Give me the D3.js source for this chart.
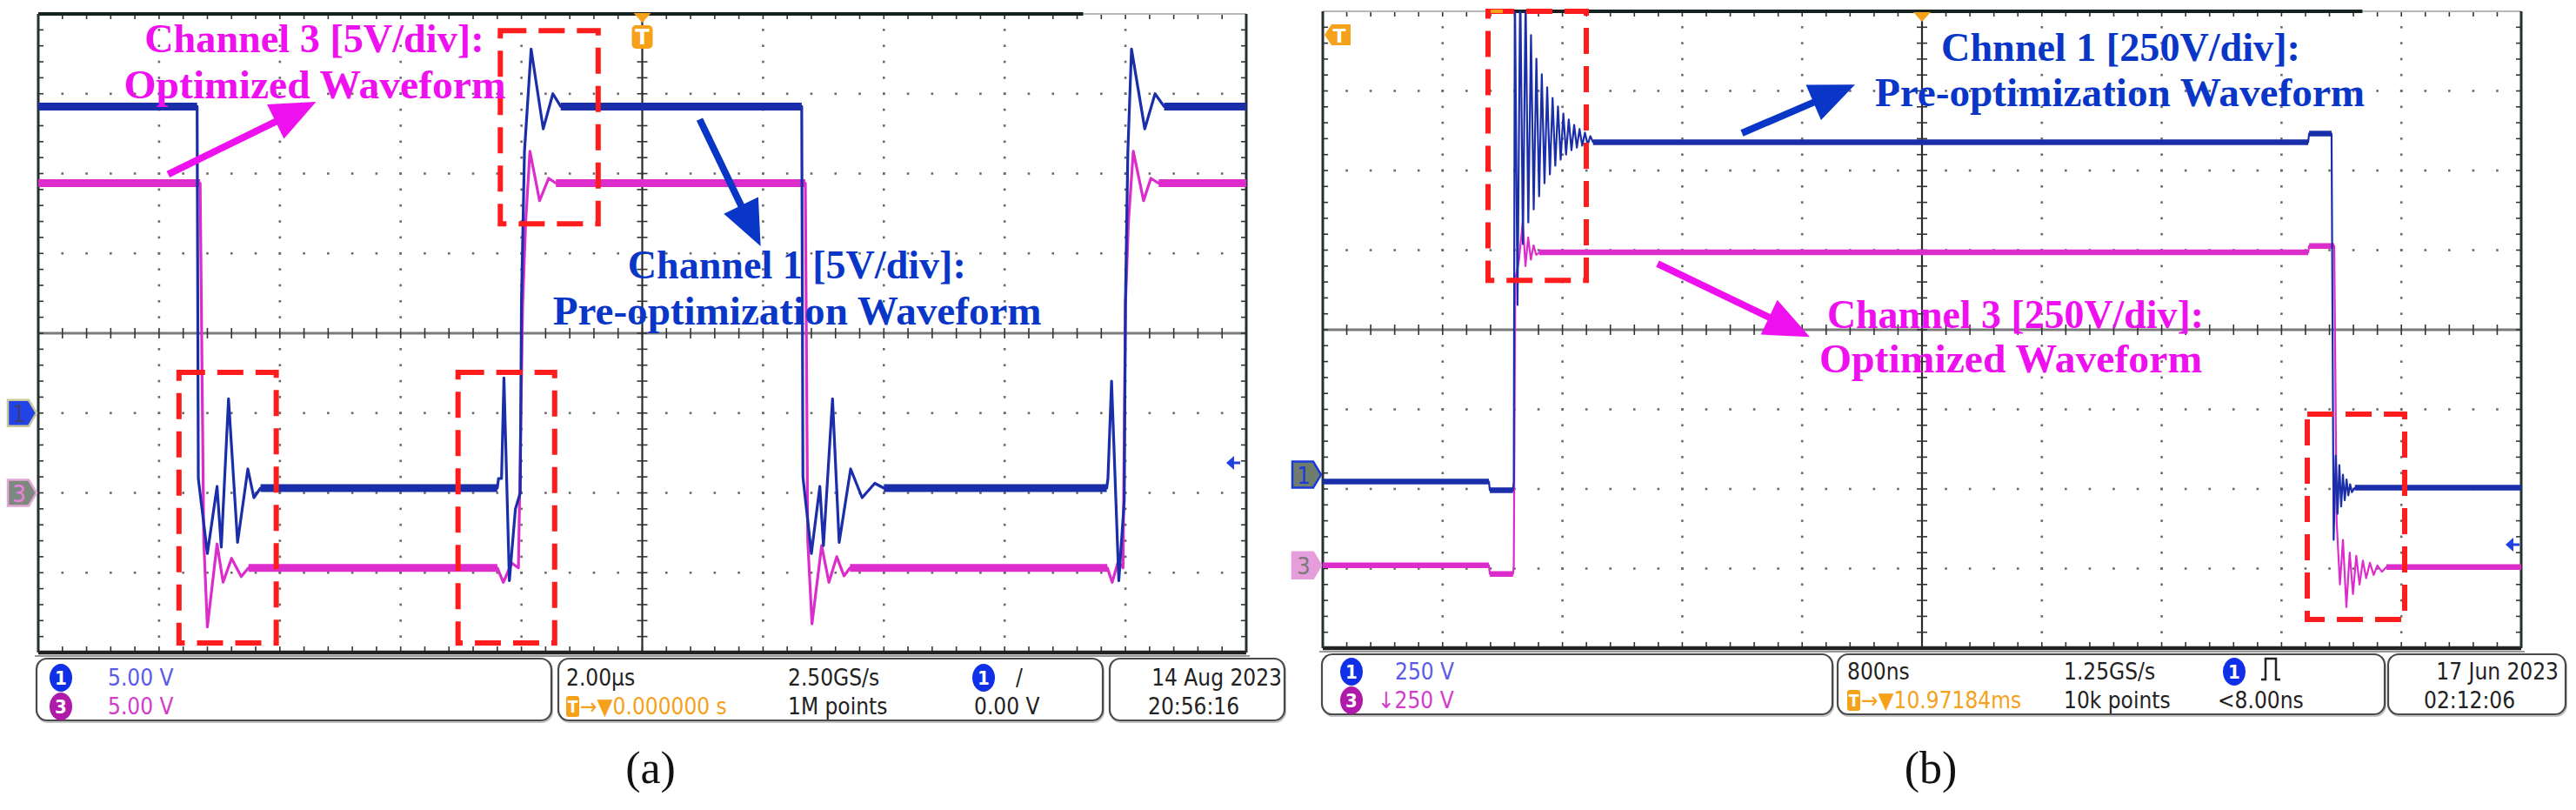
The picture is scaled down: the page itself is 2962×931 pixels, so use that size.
<!DOCTYPE html>
<html>
<head>
<meta charset="utf-8">
<script src="https://cdn.jsdelivr.net/npm/d3@7"></script>
<style>
body { margin: 0; background: #fff; }
svg { display: block; }
</style>
</head>
<body>
<div id="c"></div>
<script>
// ---- waveform (a): time in us, volts ----
var aCh1 = [[-10,19.2],[-7.37,19.2],[-7.35,-4.1],[-7.2,-8.8],[-7.04,-4.6],[-6.97,-8.4],[-6.85,0.9],[-6.7,-8.1],[-6.53,-3.5],[-6.43,-5.3],[-6.32,-4.7],
  [-2.4,-4.7],[-2.38,-4.1],[-2.33,-4.1],[-2.29,2.2],[-2.2,-10.5],[-2.1,-6.0],[-2.02,-5.0],[-2.0,7.0],[-1.95,16.4],[-1.84,22.8],[-1.64,17.8],[-1.48,20.0],[-1.35,19.2],
  [2.64,19.2],[2.66,-4.0],[2.8,-8.8],[2.94,-4.6],[3.0,-8.3],[3.15,0.9],[3.26,-8.1],[3.45,-3.5],[3.64,-5.3],[3.85,-4.4],[4.0,-4.7],
  [7.69,-4.7],[7.71,-4.1],[7.77,2.0],[7.89,-10.5],[7.98,-5.5],[8.0,7.0],[8.04,16.4],[8.1,22.8],[8.32,17.8],[8.49,20.0],[8.64,19.2],[10,19.2]];
var aCh3 = [[-10,19.4],[-7.32,19.4],[-7.26,-3.0],[-7.2,-8.4],[-7.04,-3.2],[-6.94,-5.6],[-6.8,-4.1],[-6.64,-5.25],[-6.52,-4.7],
  [-2.4,-4.7],[-2.3,-5.6],[-2.16,-4.4],[-2.05,-4.7],[-1.98,11.8],[-1.93,17.0],[-1.86,21.4],[-1.7,18.3],[-1.55,19.7],[-1.43,19.4],
  [2.7,19.4],[2.74,-3.0],[2.81,-8.2],[2.97,-3.3],[3.09,-5.6],[3.22,-4.0],[3.34,-5.2],[3.44,-4.7],
  [7.7,-4.7],[7.78,-5.6],[7.88,-4.3],[7.96,-4.7],[8.0,11.8],[8.05,17.0],[8.13,21.4],[8.3,18.3],[8.42,19.7],[8.55,19.4],[10,19.4]];
var aCh1Levels = [[-10,-7.37,19.2],[-6.32,-2.4,-4.7],[-1.35,2.64,19.2],[4.0,7.69,-4.7],[8.64,10,19.2]];
var aCh3Levels = [[-10,-7.32,19.4],[-6.52,-2.4,-4.7],[-1.43,2.7,19.4],[3.44,7.7,-4.7],[8.55,10,19.4]];

// ---- waveform (b): time in ns, volts ----
var bCh1 = [[-4000,-22],[-2891,-22],[-2885,-49],[-2730,-49],[-2725,-22],[-2718,1550],[-2700,533],[-2682,1550],[-2664,724],[-2646,1500],
  [-2628,792],[-2610,1380],[-2592,833],[-2574,1306],[-2556,874],[-2538,1257],[-2520,915],[-2502,1216],[-2484,943],[-2466,1183],
  [-2448,970],[-2430,1156],[-2412,989],[-2394,1134],[-2376,1005],[-2358,1115],[-2340,1019],[-2322,1098],[-2304,1027],[-2286,1085],
  [-2268,1033],[-2250,1074],[-2232,1036],[-2214,1063],[-2196,1044],[2578,1044],[2584,1071],[2734,1071],[2748,-205],[2762,60],
  [2774,-123],[2786,30],[2798,-100],[2810,0],[2822,-80],[2834,-15],[2846,-65],[2858,-30],[2870,-55],[2890,-41],[4000,-41]];
var bCh3 = [[-4000,0],[-2891,0],[-2885,-27],[-2730,-27],[-2725,0],[-2715,900],[-2690,960],[-2665,1079],[-2647,940],[-2629,1030],
  [-2611,960],[-2593,1005],[-2575,975],[-2555,983],[2578,983],[2584,1003],[2752,1003],[2768,137],[2790,-60],[2810,80],[2833,-131],
  [2855,40],[2877,-90],[2899,30],[2921,-60],[2943,15],[2965,-40],[2990,8],[3015,-30],[3040,0],[3070,-20],[3100,-5],[4000,-5]];
var bCh1Levels = [[-4000,-2891,-22],[-2885,-2730,-49],[-2196,2578,1044],[2584,2734,1071],[2890,4000,-41]];
var bCh3Levels = [[-4000,-2891,0],[-2885,-2730,-27],[-2555,2578,983],[2584,2752,1003],[3100,4000,-5]];

// ---- highlight boxes [t0, t1, div top, div bottom] ----
var aBoxes = [[-2.35,-0.73,3.79,1.37],[-7.67,-6.06,-0.49,-3.88],[-3.05,-1.45,-0.49,-3.88]];
var bBoxes = [[-2897,-2241,4.0,0.62],[2572,3222,-1.06,-3.64]];

// ---- annotation labels [text, t0, t1, baseline div] ----
var aLabels3 = [['Channel 3 [5V/div]:',-8.24,-2.62,3.52],['Optimized Waveform',-8.58,-2.26,2.94]];
var aLabels1 = [['Channel 1 [5V/div]:',-0.24,5.36,0.69],['Pre-optimization Waveform',-1.48,6.61,0.11]];
var bLabels1 = [['Chnnel 1 [250V/div]:',128,2525,3.38],['Pre-optimization Waveform',-314,2955,2.81]];
var bLabels3 = [['Channel 3 [250V/div]:',-633,1881,0.02],['Optimized Waveform',-685,1870,-0.54]];
// arrows [t from, div from, t to, div to]
var aArrow3 = [-7.85,1.99,-5.40,2.90];
var aArrow1 = [0.95,2.68,1.96,1.09];
var bArrow1 = [-1202,2.47,-447,3.08];
var bArrow3 = [-1765,0.83,-749,-0.09];

var width = 2962, height = 931;
var MAG = '#ee10ee', BLU = '#0a36c8';
var TR1 = '#1a2eaa', TR3 = '#dc2ccc';

var svg = d3.select('#c').append('svg')
  .attr('width', width)
  .attr('height', height);
svg.append('rect').attr('width', width).attr('height', height).attr('fill', '#fff');

var panels = [
  {id: 'a', x0: 44, x1: 1433, y0: 16, y1: 750, tSpan: 10, vDiv: 5, pos1: -1, pos3: -2,
   ch1: aCh1, ch3: aCh3, lv1: aCh1Levels, lv3: aCh3Levels, band: 9, lw: 3.2,
   boxes: aBoxes, topDark: [-10, 7.3],
   labels: [[aLabels3, MAG], [aLabels1, BLU]], arrows: [[aArrow3, MAG], [aArrow1, BLU]]},
  {id: 'b', x0: 1521, x1: 2899, y0: 13, y1: 745, tSpan: 4000, vDiv: 250, pos1: -1.82, pos3: -2.96,
   ch1: bCh1, ch3: bCh3, lv1: bCh1Levels, lv3: bCh3Levels, band: 6.5, lw: 2.2,
   boxes: bBoxes, topDark: [-2880, 2940],
   labels: [[bLabels1, BLU], [bLabels3, MAG]], arrows: [[bArrow1, BLU], [bArrow3, MAG]]}
];

panels.forEach(function(p) {
  var g = svg.append('g');
  var x = d3.scaleLinear().domain([-p.tSpan, p.tSpan]).range([p.x0, p.x1]);
  var xd = d3.scaleLinear().domain([-5, 5]).range([p.x0, p.x1]);
  var yd = d3.scaleLinear().domain([-4, 4]).range([p.y1, p.y0]);
  p.x = x; p.xd = xd; p.yd = yd;

  var mx = d3.range(-25, 26).map(function(i) { return i / 5; });
  var my = d3.range(-20, 21).map(function(i) { return i / 5; });

  // dotted graticule
  var dots = [];
  d3.range(-4, 5).forEach(function(i) {
    if (i == 0) return;
    my.forEach(function(m) { if (Math.abs(m) < 4) dots.push([xd(i), yd(m)]); });
  });
  d3.range(-3, 4).forEach(function(j) {
    if (j == 0) return;
    mx.forEach(function(m) { if (Math.abs(m) < 5) dots.push([xd(m), yd(j)]); });
  });
  g.selectAll('rect.dot').data(dots).enter().append('rect')
    .attr('class', 'dot')
    .attr('x', function(d) { return d[0] - 1.3; })
    .attr('y', function(d) { return d[1] - 1.3; })
    .attr('width', 2.6).attr('height', 2.6)
    .attr('fill', '#6a6a6a');

  // centre cross
  g.append('line').attr('x1', p.x0).attr('x2', p.x1).attr('y1', yd(0)).attr('y2', yd(0))
    .attr('stroke', '#7a7a7a').attr('stroke-width', 3);
  g.append('line').attr('x1', xd(0)).attr('x2', xd(0)).attr('y1', p.y0).attr('y2', p.y1)
    .attr('stroke', '#2a2a2a').attr('stroke-width', 2.2);
  g.selectAll('line.tx').data(mx).enter().append('line')
    .attr('class', 'tx')
    .attr('x1', function(d) { return xd(d); }).attr('x2', function(d) { return xd(d); })
    .attr('y1', yd(0) - 6).attr('y2', yd(0) + 6)
    .attr('stroke', '#333').attr('stroke-width', 1.6);
  g.selectAll('line.ty').data(my).enter().append('line')
    .attr('class', 'ty')
    .attr('y1', function(d) { return yd(d); }).attr('y2', function(d) { return yd(d); })
    .attr('x1', xd(0) - 6).attr('x2', xd(0) + 6)
    .attr('stroke', '#333').attr('stroke-width', 1.6);

  // edge ticks
  mx.forEach(function(m) {
    g.append('line').attr('x1', xd(m)).attr('x2', xd(m)).attr('y1', p.y0).attr('y2', p.y0 + 6)
      .attr('stroke', '#333').attr('stroke-width', 1.6);
    g.append('line').attr('x1', xd(m)).attr('x2', xd(m)).attr('y1', p.y1 - 7).attr('y2', p.y1)
      .attr('stroke', '#333').attr('stroke-width', 1.6);
  });
  my.forEach(function(m) {
    g.append('line').attr('x1', p.x0).attr('x2', p.x0 + 6).attr('y1', yd(m)).attr('y2', yd(m))
      .attr('stroke', '#333').attr('stroke-width', 1.6);
    g.append('line').attr('x1', p.x1 - 6).attr('x2', p.x1).attr('y1', yd(m)).attr('y2', yd(m))
      .attr('stroke', '#333').attr('stroke-width', 1.6);
  });

  // border
  g.append('line').attr('x1', p.x0).attr('x2', p.x1).attr('y1', p.y0).attr('y2', p.y0)
    .attr('stroke', '#b8b8b8').attr('stroke-width', 2);
  g.append('line').attr('x1', x(p.topDark[0])).attr('x2', x(p.topDark[1])).attr('y1', p.y0).attr('y2', p.y0)
    .attr('stroke', '#162222').attr('stroke-width', 4);
  g.append('line').attr('x1', p.x0).attr('x2', p.x1).attr('y1', p.y1).attr('y2', p.y1)
    .attr('stroke', '#222').attr('stroke-width', 4.5);
  g.append('line').attr('x1', p.x0 - 4).attr('x2', p.x1 + 4).attr('y1', p.y1 + 4).attr('y2', p.y1 + 4)
    .attr('stroke', '#9a9a9a').attr('stroke-width', 2);
  [p.x0, p.x1].forEach(function(xx) {
    g.append('line').attr('x1', xx).attr('x2', xx).attr('y1', p.y0).attr('y2', p.y1)
      .attr('stroke', '#253030').attr('stroke-width', 3);
  });

  // traces
  g.append('clipPath').attr('id', 'clip-' + p.id)
    .append('rect').attr('x', p.x0).attr('y', p.y0)
    .attr('width', p.x1 - p.x0).attr('height', p.y1 - p.y0);
  var tg = g.append('g').attr('clip-path', 'url(#clip-' + p.id + ')');

  function trace(data, levels, pos, col) {
    var line = d3.line()
      .x(function(d) { return x(d[0]); })
      .y(function(d) { return yd(pos + d[1] / p.vDiv); });
    tg.selectAll(null).data(levels).enter().append('line')
      .attr('x1', function(d) { return x(d[0]); })
      .attr('x2', function(d) { return x(d[1]); })
      .attr('y1', function(d) { return yd(pos + d[2] / p.vDiv); })
      .attr('y2', function(d) { return yd(pos + d[2] / p.vDiv); })
      .attr('stroke', col).attr('stroke-width', p.band);
    tg.append('path').datum(data)
      .attr('d', line)
      .attr('fill', 'none')
      .attr('stroke', col)
      .attr('stroke-width', p.lw)
      .attr('stroke-linejoin', 'round');
  }
  trace(p.ch3, p.lv3, p.pos3, TR3);
  trace(p.ch1, p.lv1, p.pos1, TR1);

  // red dashed boxes
  g.selectAll('rect.box').data(p.boxes).enter().append('rect')
    .attr('class', 'box')
    .attr('x', function(d) { return x(d[0]); })
    .attr('y', function(d) { return yd(d[2]); })
    .attr('width', function(d) { return x(d[1]) - x(d[0]); })
    .attr('height', function(d) { return yd(d[3]) - yd(d[2]); })
    .attr('fill', 'none')
    .attr('stroke', '#ff1c1c')
    .attr('stroke-width', 6)
    .attr('stroke-dasharray', '30 14');

  // labels
  p.labels.forEach(function(L) {
    g.selectAll(null).data(L[0]).enter().append('text')
      .attr('x', function(d) { return x(d[1]); })
      .attr('y', function(d) { return yd(d[3]); })
      .attr('textLength', function(d) { return x(d[2]) - x(d[1]); })
      .attr('lengthAdjust', 'spacingAndGlyphs')
      .attr('font-family', '"Liberation Serif", "DejaVu Serif", serif')
      .attr('font-weight', 'bold')
      .attr('font-size', 47)
      .attr('fill', L[1])
      .text(function(d) { return d[0]; });
  });

  // arrows
  p.arrows.forEach(function(A) {
    var a = A[0];
    var xa = x(a[0]), ya = yd(a[1]), xb = x(a[2]), yb = yd(a[3]);
    var dx = xb - xa, dy = yb - ya, len = Math.sqrt(dx * dx + dy * dy);
    var ux = dx / len, uy = dy / len, hl = 52, hw = 22;
    var bx = xb - ux * hl, by = yb - uy * hl;
    g.append('line').attr('x1', xa).attr('y1', ya).attr('x2', bx + ux * 4).attr('y2', by + uy * 4)
      .attr('stroke', A[1]).attr('stroke-width', 8);
    g.append('polygon')
      .attr('points', [[xb, yb], [bx - uy * hw, by + ux * hw], [bx + uy * hw, by - ux * hw]].join(' '))
      .attr('fill', A[1]);
  });
});

// channel markers
function chMarker(xr, cy, label, fill, stroke, tcol) {
  var pts = [[xr - 33, cy - 15], [xr - 9, cy - 15], [xr, cy], [xr - 9, cy + 15], [xr - 33, cy + 15]];
  svg.append('polygon').attr('points', pts.join(' '))
    .attr('fill', fill).attr('stroke', stroke).attr('stroke-width', 2.5);
  svg.append('text').attr('x', xr - 20).attr('y', cy + 10)
    .attr('text-anchor', 'middle')
    .attr('font-family', '"DejaVu Sans", sans-serif').attr('font-stretch', 'condensed')
    .attr('font-size', 27).attr('fill', tcol).text(label);
}
var pa = panels[0], pb = panels[1];
chMarker(pa.x0 - 2, pa.yd(pa.pos1), '1', '#2243e6', '#c9c79a', '#3a3f7a');
chMarker(pa.x0 - 2, pa.yd(pa.pos3), '3', '#7d897d', '#e0a6d8', '#ef7fe0');
chMarker(pb.x0 - 2, pb.yd(pb.pos1), '1', '#6f7d6f', '#1a3ad8', '#1a3ad8');
chMarker(pb.x0 - 2, pb.yd(pb.pos3), '3', '#e59ddb', '#e59ddb', '#7a7a7a');

// trigger markers
var ORG = '#f5a11a';
function trigTop(cx, ty) {
  svg.append('polygon').attr('points', [[cx - 10, ty], [cx + 10, ty], [cx, ty + 11]].join(' ')).attr('fill', ORG);
}
trigTop(pa.xd(0), pa.y0 - 1);
svg.append('rect').attr('x', pa.xd(0) - 12).attr('y', 29).attr('width', 24).attr('height', 27)
  .attr('rx', 5).attr('fill', ORG);
svg.append('text').attr('x', pa.xd(0)).attr('y', 51).attr('text-anchor', 'middle')
  .attr('font-family', '"DejaVu Sans", sans-serif').attr('font-weight', 'bold')
  .attr('font-size', 24).attr('fill', '#fff').text('T');
trigTop(pb.xd(0), pb.y0 + 1);
svg.append('polygon').attr('points', [[1523, 40], [1531, 28], [1553, 28], [1553, 52], [1531, 52]].join(' '))
  .attr('fill', ORG);
svg.append('text').attr('x', 1540).attr('y', 49).attr('text-anchor', 'middle')
  .attr('font-family', '"DejaVu Sans", sans-serif').attr('font-weight', 'bold')
  .attr('font-size', 22).attr('fill', '#fff').text('T');
svg.append('rect').attr('x', pb.x(-2880)).attr('y', 11).attr('width', 14).attr('height', 4).attr('fill', ORG);

// small blue reference arrows at right edge
function refArrow(xl, cy) {
  svg.append('polygon').attr('points', [[xl, cy], [xl + 9, cy - 8], [xl + 9, cy + 8]].join(' ')).attr('fill', '#2040e0');
  svg.append('line').attr('x1', xl + 8).attr('x2', xl + 16).attr('y1', cy).attr('y2', cy)
    .attr('stroke', '#2040e0').attr('stroke-width', 3);
}
refArrow(1410, 532);
refArrow(2881, 626);

// status bars
var SF = '"DejaVu Sans Condensed", "DejaVu Sans", sans-serif';
var FS = 26;
function statusBar(boxes, yt, yb, r1, r2, items) {
  boxes.forEach(function(b) {
    svg.append('rect').attr('x', b[0] + 1).attr('y', yt + 2).attr('width', b[1] - b[0]).attr('height', yb - yt)
      .attr('rx', 12).attr('fill', 'none').attr('stroke', '#c4c4c4').attr('stroke-width', 2);
    svg.append('rect').attr('x', b[0]).attr('y', yt).attr('width', b[1] - b[0]).attr('height', yb - yt)
      .attr('rx', 12).attr('fill', '#fff').attr('stroke', '#4a4a4a').attr('stroke-width', 2.2);
  });
  items.forEach(function(it) {
    var yy = it[1] == 1 ? r1 : r2;
    if (it[2] == 'badge') {
      svg.append('ellipse').attr('cx', it[0]).attr('cy', yy - 9).attr('rx', 13).attr('ry', 16)
        .attr('fill', it[4]);
      svg.append('text').attr('x', it[0]).attr('y', yy - 1).attr('text-anchor', 'middle')
        .attr('font-family', SF).attr('font-weight', 'bold').attr('font-size', 22)
        .attr('fill', '#fff').text(it[3]);
    } else if (it[2] == 'trig') {
      svg.append('rect').attr('x', it[0]).attr('y', yy - 21).attr('width', 15).attr('height', 24)
        .attr('rx', 3).attr('fill', ORG);
      svg.append('text').attr('x', it[0] + 7.5).attr('y', yy - 2).attr('text-anchor', 'middle')
        .attr('font-family', SF).attr('font-weight', 'bold').attr('font-size', 19)
        .attr('fill', '#fff').text('T');
      svg.append('text').attr('x', it[0] + 16).attr('y', yy)
        .attr('font-family', SF).attr('font-size', FS).attr('fill', ORG).text(it[3]);
    } else if (it[2] == 'pulse') {
      var px = it[0];
      svg.append('path').attr('d', 'M' + px + ',' + yy + ' h5 v-24 h12 v24 h5')
        .attr('fill', 'none').attr('stroke', '#222').attr('stroke-width', 2.5);
    } else {
      svg.append('text').attr('x', it[0]).attr('y', yy)
        .attr('text-anchor', it[5] || 'start')
        .attr('font-family', SF).attr('font-size', FS).attr('fill', it[4] || '#222').text(it[3]);
    }
  });
}
statusBar([[42, 634], [642, 1268], [1276, 1477]], 757, 828, 788, 821, [
  [70, 1, 'badge', '1', '#1030e8'], [124, 1, 'text', '5.00 V', '#5a5ae8'],
  [70, 2, 'badge', '3', '#b01aa8'], [124, 2, 'text', '5.00 V', '#d23ccb'],
  [651, 1, 'text', '2.00\u00b5s'], [651, 2, 'trig', '\u2192\u25bc0.000000 s'],
  [906, 1, 'text', '2.50GS/s'], [906, 2, 'text', '1M points'],
  [1131, 1, 'badge', '1', '#1030e8'], [1168, 1, 'text', '/'], [1120, 2, 'text', '0.00 V'],
  [1474, 1, 'text', '14 Aug 2023', '#222', 'end'], [1320, 2, 'text', '20:56:16']
]);
statusBar([[1520, 2107], [2113, 2742], [2746, 2950]], 752, 821, 781, 814, [
  [1554, 1, 'badge', '1', '#1030e8'], [1604, 1, 'text', '250 V', '#5a5ae8'],
  [1554, 2, 'badge', '3', '#b01aa8'], [1584, 2, 'text', '\u2193250 V', '#d23ccb'],
  [2124, 1, 'text', '800ns'], [2124, 2, 'trig', '\u2192\u25bc10.97184ms'],
  [2373, 1, 'text', '1.25GS/s'], [2373, 2, 'text', '10k points'],
  [2569, 1, 'badge', '1', '#1030e8'], [2600, 1, 'pulse'], [2550, 2, 'text', '<8.00ns'],
  [2942, 1, 'text', '17 Jun 2023', '#222', 'end'], [2787, 2, 'text', '02:12:06']
]);

// captions
[['(a)', 748], ['(b)', 2220]].forEach(function(c) {
  svg.append('text').attr('x', c[1]).attr('y', 900).attr('text-anchor', 'middle')
    .attr('font-family', '"Liberation Serif", serif').attr('font-size', 52)
    .attr('fill', '#111').text(c[0]);
});
</script>
</body>
</html>
